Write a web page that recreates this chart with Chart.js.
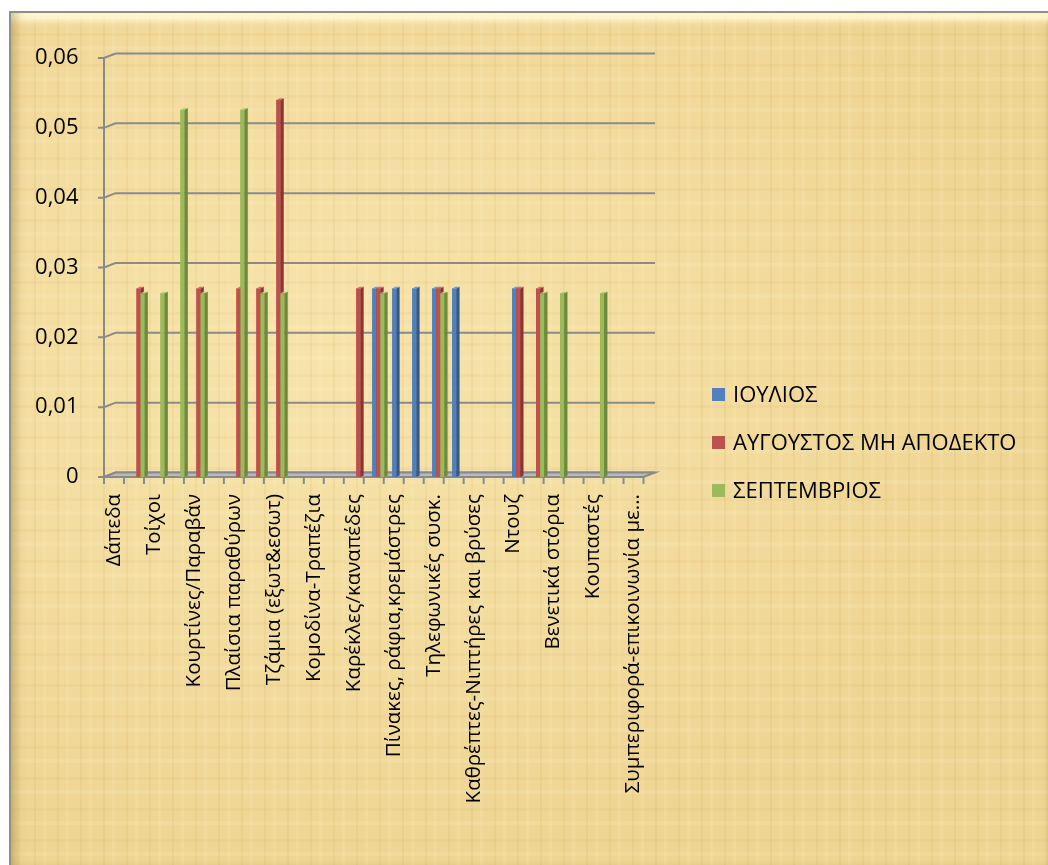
<!DOCTYPE html>
<html>
<head>
<meta charset="utf-8">
<script src="https://cdn.jsdelivr.net/npm/chart.js@4.4.1/dist/chart.umd.min.js"></script>
<style>
  html, body { margin: 0; padding: 0; background: #ffffff; }
  body { width: 1048px; height: 865px; position: relative; overflow: hidden; }
  #frame {
    position: absolute; left: 9px; top: 11px; width: 1046px; height: 862px;
    box-sizing: border-box;
    border-top: 2px solid #8e8e8e; border-left: 2px solid #8e8e8e;
    background-color: #f0d898;
    background-image:
      repeating-linear-gradient(90deg, rgba(190,150,70,0.10) 0px, rgba(190,150,70,0.10) 2px, rgba(255,240,190,0.0) 2px, rgba(255,240,190,0.0) 9px, rgba(255,245,200,0.12) 9px, rgba(255,245,200,0.12) 12px, rgba(0,0,0,0) 12px, rgba(0,0,0,0) 23px),
      repeating-linear-gradient(0deg, rgba(200,160,80,0.08) 0px, rgba(200,160,80,0.08) 3px, rgba(0,0,0,0) 3px, rgba(0,0,0,0) 17px, rgba(255,248,210,0.12) 17px, rgba(255,248,210,0.12) 21px, rgba(0,0,0,0) 21px, rgba(0,0,0,0) 31px),
      radial-gradient(ellipse at 30% 40%, rgba(255,240,190,0.5), rgba(230,200,130,0.2) 70%);
    box-shadow:
      inset 12px 0 8px -6px rgba(150,115,50,0.35),
      inset 0 14px 6px -6px rgba(255,252,215,0.9),
      inset 0 -12px 6px -6px rgba(170,130,60,0.35),
      inset -12px 0 6px -6px rgba(170,130,60,0.3);
  }
  #wrap { position: absolute; left: 0; top: 0; width: 1048px; height: 865px; }
</style>
</head>
<body>
<div id="frame"></div>
<div id="wrap"><canvas id="c" width="1048" height="865"></canvas></div>
<script>
// ---- data ----
const categories = [
  'Δάπεδα', '', 'Τοίχοι', '', 'Κουρτίνες/Παραβάν', '', 'Πλαίσια παραθύρων', '',
  'Τζάμια (εξωτ&εσωτ)', '', 'Κομοδίνα-Τραπέζια', '', 'Καρέκλες/καναπέδες', '',
  'Πίνακες, ράφια,κρεμάστρες', '', 'Τηλεφωνικές συσκ.', '', 'Καθρέπτες-Νιπτήρες και βρύσες', '',
  'Ντουζ', '', 'Βενετικά στόρια', '', 'Κουπαστές', '', 'Συμπεριφορά-επικοινωνία με...'
];
const seriesNames = ['ΙΟΥΛΙΟΣ', 'ΑΥΓΟΥΣΤΟΣ ΜΗ ΑΠΟΔΕΚΤΟ', 'ΣΕΠΤΕΜΒΡΙΟΣ'];
const julyValues = [null, null, null, null, null, null, null, null, null, null, null, null, null,
  0.027, 0.027, 0.027, 0.027, 0.027, null, null, 0.027, null, null, null, null, null, null];
const augustValues = [null, 0.027, null, null, 0.027, null, 0.027, 0.027, 0.054, null, null, null, 0.027,
  0.027, null, null, 0.027, null, null, null, 0.027, 0.027, null, null, null, null, null];
const septemberValues = [null, 0.0263, 0.0263, 0.0526, 0.0263, null, 0.0526, 0.0263, 0.0263, null, null, null, null,
  0.0263, null, null, 0.0263, null, null, null, null, 0.0263, 0.0263, null, 0.0263, null, null];
const yTicks = [0, 0.01, 0.02, 0.03, 0.04, 0.05, 0.06];

// ---- styles ----
const FRONT = ['#4f81bd', '#c0504d', '#9bbb59'];
const SIDE = ['#35598a', '#8a3533', '#6d8a3c'];
const TOP = ['#6f9ad0', '#d2706d', '#b3cf7a'];
const GRID = '#8a8a8a';
const AX_SHIFT = 4.5;   // front axis left of the Chart.js area
const DX = 11.5, DY = 4.5; // 3D depth offset
const SD = 3.4, SU = 1.6;  // bar side depth

const depthPlugin = {
  id: 'depth',
  beforeDatasetsDraw(chart) {
    const ctx = chart.ctx, a = chart.chartArea, ys = chart.scales.y;
    const x0 = a.left - AX_SHIFT, x1 = a.right - AX_SHIFT;
    ctx.save();
    ctx.strokeStyle = GRID; ctx.lineWidth = 2;
    yTicks.forEach(v => {
      const y = ys.getPixelForValue(v);
      ctx.beginPath();
      ctx.moveTo(x0 - 6, y); ctx.lineTo(x0, y);
      ctx.lineTo(x0 + DX, y - DY);
      ctx.lineTo(x1 + DX, y - DY);
      ctx.stroke();
    });
    const yb = ys.getPixelForValue(0);
    ctx.fillStyle = '#b9b9b9';
    ctx.beginPath();
    ctx.moveTo(x0, yb); ctx.lineTo(x1, yb); ctx.lineTo(x1 + DX, yb - DY); ctx.lineTo(x0 + DX, yb - DY); ctx.closePath();
    ctx.fill(); ctx.stroke();
    ctx.beginPath();
    ctx.moveTo(x0, ys.getPixelForValue(0.06)); ctx.lineTo(x0, yb + 1);
    ctx.stroke();
    const n = categories.length;
    const w = (a.right - a.left) / n;
    for (let i = 0; i <= n; i++) {
      const x = x0 + i * w;
      ctx.beginPath(); ctx.moveTo(x, yb); ctx.lineTo(x, yb + 7); ctx.stroke();
    }
    ctx.restore();
  },
  afterDatasetsDraw(chart) {
    // repaint bars back-to-front (series 0 first) with their 3D side and top faces
    const ctx = chart.ctx;
    ctx.save();
    chart.data.datasets.forEach((ds, i) => {
      const meta = chart.getDatasetMeta(i);
      meta.data.forEach((el, j) => {
        const v = ds.data[j];
        if (v === null || v === undefined) return;
        const p = el.getProps(['x', 'y', 'base', 'width'], true);
        const l = p.x - p.width / 2, r = p.x + p.width / 2;
        ctx.fillStyle = FRONT[i];
        ctx.fillRect(l, p.y, p.width, p.base - p.y);
        ctx.fillStyle = SIDE[i];
        ctx.beginPath();
        ctx.moveTo(r, p.y); ctx.lineTo(r + SD, p.y - SU); ctx.lineTo(r + SD, p.base - SU); ctx.lineTo(r, p.base);
        ctx.closePath(); ctx.fill();
        ctx.fillStyle = TOP[i];
        ctx.beginPath();
        ctx.moveTo(l, p.y); ctx.lineTo(l + SD, p.y - SU); ctx.lineTo(r + SD, p.y - SU); ctx.lineTo(r, p.y);
        ctx.closePath(); ctx.fill();
      });
    });
    ctx.restore();
  },
  afterDraw(chart) {
    const ctx = chart.ctx;
    ctx.save();
    const rows = [395, 443, 491];
    ctx.font = '22px "Open Sans"';
    ctx.textBaseline = 'middle';
    ctx.textAlign = 'left';
    chart.data.datasets.forEach((ds, i) => {
      ctx.fillStyle = FRONT[i];
      ctx.fillRect(712, rows[i] - 7, 13, 13);
      ctx.fillStyle = '#000000';
      ctx.fillText(ds.label, 733, rows[i] + 1);
    });
    ctx.restore();
  }
};

const ctx = document.getElementById('c').getContext('2d');
new Chart(ctx, {
  type: 'bar',
  data: {
    labels: categories,
    datasets: [
      { label: seriesNames[0], data: julyValues, backgroundColor: FRONT[0] },
      { label: seriesNames[1], data: augustValues, backgroundColor: FRONT[1] },
      { label: seriesNames[2], data: septemberValues, backgroundColor: FRONT[2] }
    ]
  },
  options: {
    responsive: false,
    animation: false,
    devicePixelRatio: 1,
    layout: { padding: { top: 58, right: 400, left: 0, bottom: 0 } },
    datasets: { bar: { categoryPercentage: 0.6, barPercentage: 1.0 } },
    plugins: { legend: { display: false }, tooltip: { enabled: false } },
    scales: {
      x: {
        grid: { display: false, drawTicks: false },
        border: { display: false },
        afterFit: s => { s.height = 388; },
        ticks: {
          autoSkip: false, minRotation: 90, maxRotation: 90,
          padding: 17, labelOffset: -AX_SHIFT,
          color: '#000000', font: { family: 'Open Sans', size: 20.5 },
          callback: (v, i) => categories[i]
        }
      },
      y: {
        min: 0, max: 0.06,
        grid: { display: false, drawTicks: false },
        border: { display: false },
        afterFit: s => { s.width = 108.5; },
        afterBuildTicks: s => { s.ticks = yTicks.map(v => ({ value: v })); },
        ticks: {
          padding: 30, color: '#000000', font: { family: 'Open Sans', size: 22 },
          callback: v => (v === 0 ? '0' : v.toFixed(2).replace('.', ','))
        }
      }
    }
  },
  plugins: [depthPlugin]
});
</script>
</body>
</html>
